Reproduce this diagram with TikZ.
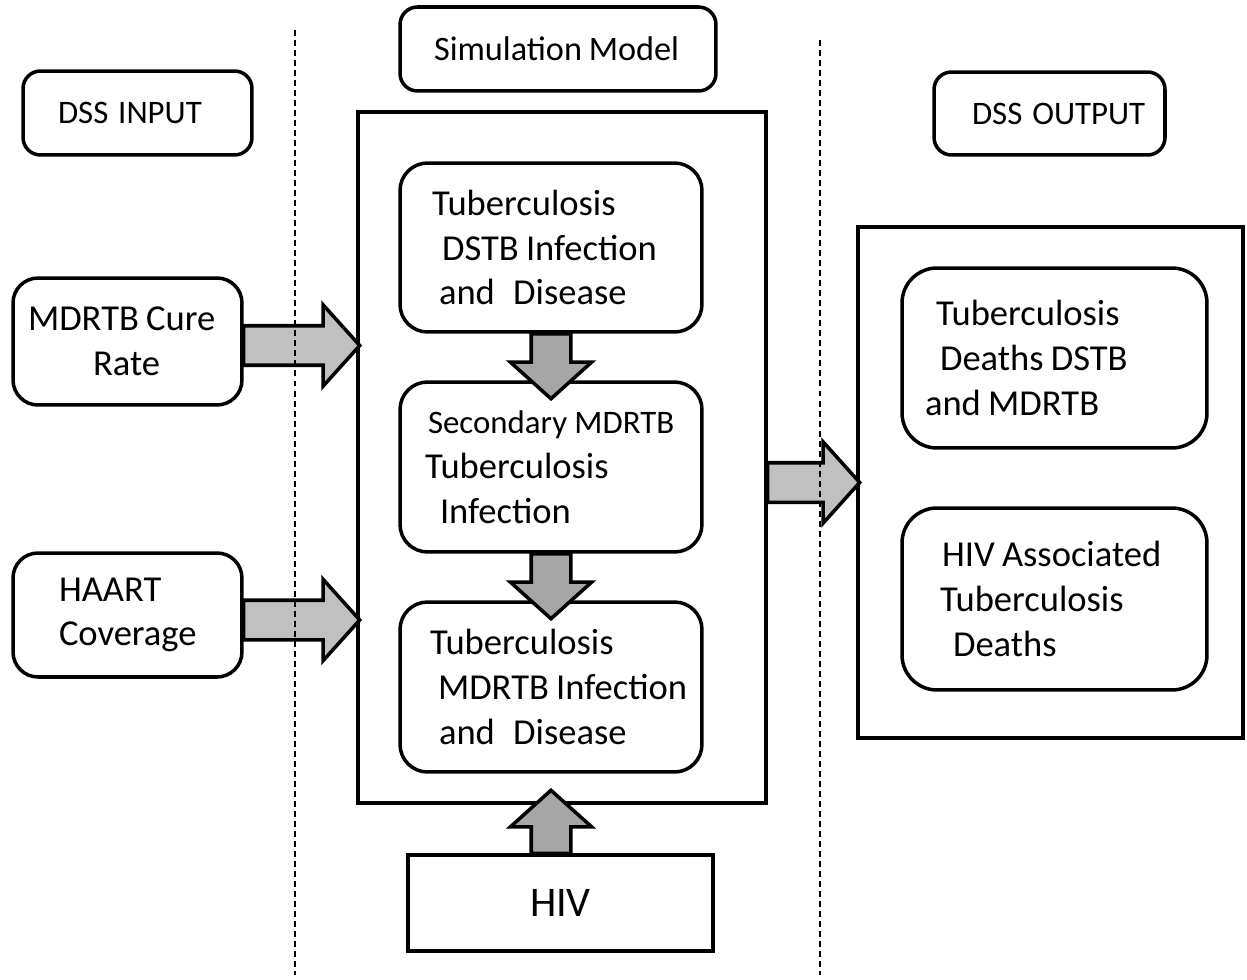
\documentclass[tikz,border=0pt]{standalone}
\usepackage{fontspec}
\setmainfont{Carlito}
\usetikzlibrary{shapes.arrows,calc}
\definecolor{arrowlight}{HTML}{C0C0C0}
\definecolor{arrowdark}{HTML}{A6A6A6}
\begin{document}
\begin{tikzpicture}[x=0.02cm,y=-0.02cm,
  box/.style={draw,line width=2pt,outer sep=0pt,inner sep=0pt,align=left,font=\fontsize{20.8}{25.5}\selectfont,execute at begin node={\spaceskip=0.2em\relax}},
  rbox/.style={box,rounded corners=0.55cm},
  hbox/.style={box,rounded corners=0.35cm,font=\fontsize{18.7}{22}\selectfont},
  simframe/.style={draw,line width=1.8pt,outer sep=0pt,inner sep=0pt},
  fat/.style={single arrow,draw,line width=2pt,inner xsep=0pt,inner ysep=0.36cm,single arrow head extend=0.42cm,single arrow tip angle=96,minimum height=#1,pos=0,anchor=tail},
  fatside/.style={fat=#1,fill=arrowlight},
  fatdown/.style={fat=#1,fill=arrowdark},
  divider/.style={line width=0.6pt,dash pattern=on 3.4pt off 2.3pt}]

\useasboundingbox (0,0) rectangle (1247,980);

\node[hbox,text width=4.58cm,minimum height=1.68cm] (dssin) at (137.5,113) {\hspace*{0.7cm}DSS\hspace{0.3em}INPUT};
\node[hbox,text width=6.32cm,minimum height=1.68cm,font=\fontsize{19.5}{22}\selectfont] (simlbl) at (558,49) {\hspace*{0.68cm}Simulation Model};
\node[hbox,text width=4.62cm,minimum height=1.66cm] (dssout) at (1049.5,113.5) {\hspace*{0.76cm}DSS\hspace{0.3em}OUTPUT};

\node[simframe,minimum width=8.16cm,minimum height=13.82cm] (sim) at (562,457.5) {};
\node[rbox,text width=6.04cm,minimum height=3.38cm] (tbds) at (551,247.5) {\hspace*{0.64cm}Tuberculosis\\\hspace*{0.84cm}DSTB Infection\\\hspace*{0.78cm}and\hspace{0.5em}Disease};
\node[rbox,text width=6.04cm,minimum height=3.40cm] (tbsec) at (551,467) {\hspace*{0.56cm}{\fontsize{18.7}{25.5}\selectfont Secondary MDRTB}\\\hspace*{0.5cm}Tuberculosis\\\hspace*{0.8cm}Infection};
\node[rbox,text width=6.04cm,minimum height=3.40cm] (tbmdr) at (551,687) {\hspace*{0.6cm}Tuberculosis\\\hspace*{0.76cm}MDRTB Infection\\\hspace*{0.78cm}and\hspace{0.5em}Disease};

\node[rbox,rounded corners=0.5cm,text width=4.58cm,minimum height=2.54cm] (cure) at (127.5,341.5) {\hspace*{0.3cm}MDRTB Cure\\\hspace*{1.6cm}Rate};
\node[rbox,rounded corners=0.5cm,text width=4.58cm,minimum height=2.48cm] (haart) at (127.5,615) {\hspace*{0.92cm}HAART\\\hspace*{0.92cm}Coverage};

\node[simframe,minimum width=7.70cm,minimum height=10.22cm] (outbox) at (1050.5,482.5) {};
\node[rbox,rounded corners=0.7cm,text width=6.10cm,minimum height=3.60cm] (deaths) at (1054.5,358) {\hspace*{0.68cm}Tuberculosis\\\hspace*{0.76cm}Deaths DSTB\\\hspace*{0.46cm}and MDRTB};
\node[rbox,rounded corners=0.7cm,text width=6.10cm,minimum height=3.64cm] (hivdeaths) at (1054.5,599) {\hspace*{0.8cm}HIV Associated\\\hspace*{0.76cm}Tuberculosis\\\hspace*{1.02cm}Deaths};

\node[box,minimum width=6.10cm,minimum height=1.92cm,font=\fontsize{24}{28}\selectfont] (hiv) at (560.5,903) {HIV};

\path ($(cure.east)+(0,4)$) -- node[fatside=2.32cm] (acure) {} ($(cure.east -| sim.west)+(0,4)$);
\path ($(haart.east)+(0,5)$) -- node[fatside=2.32cm] (ahaart) {} ($(haart.east -| sim.west)+(0,5)$);
\path (outbox.west -| sim.east) -- node[fatside=1.84cm] (aout) {} (outbox.west);
\path (tbds.south) -- node[fatdown=1.3cm,rotate=-90] (ads) {} ($(tbsec.north)+(0,15)$);
\path (tbsec.south) -- node[fatdown=1.3cm,rotate=-90] (asec) {} ($(tbmdr.north)+(0,15)$);
\path (hiv.north -| tbmdr.south) -- node[fatdown=1.26cm,rotate=90] (ahiv) {} ($(sim.south -| tbmdr.south)+(0,-11)$);

\coordinate (cutLtop) at (295,30);
\coordinate (cutLbot) at (295,975);
\coordinate (cutRtop) at (820,40);
\coordinate (cutRbot) at (820,975);
\draw[divider] (cutLtop) -- (cutLbot);
\draw[divider] (cutRtop) -- (cutRbot);
\end{tikzpicture}
\end{document}
